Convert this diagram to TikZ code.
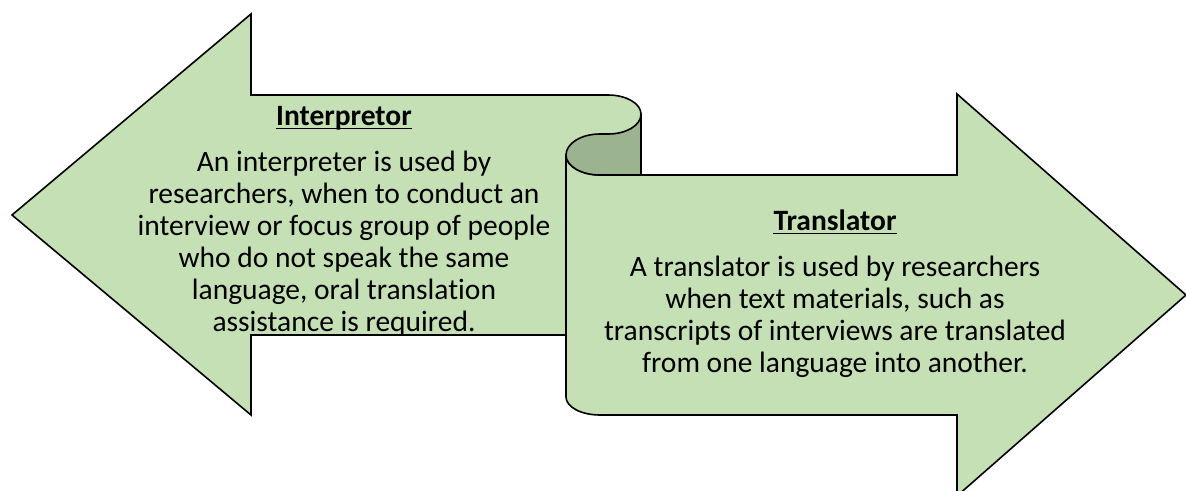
\documentclass[tikz,border=0pt]{standalone}
\usepackage{fontspec}
\setmainfont{Carlito}[Ligatures={NoCommon}]
\definecolor{lightg}{HTML}{C5E0B4}
\definecolor{darkg}{HTML}{9CB38F}
\begin{document}
\begin{tikzpicture}[x=1pt,y=-1pt,
  shapeline/.style={draw=black, line width=1.6pt, line join=miter},
  titletext/.style={font=\fontsize{29.5}{32}\selectfont\bfseries, anchor=base, inner sep=0pt},
  bodytext/.style={font=\fontsize{29.5}{32}\selectfont, anchor=base, inner sep=0pt},
  uline/.style={draw=black, line width=1.5pt}]
\useasboundingbox (0,0) rectangle (1186,490);
% left arrow
\path[shapeline, fill=lightg] (12,215) -- (251,14) -- (251,95) -- (608,95)
  .. controls (626.2,95) and (641,103.5) .. (641,114) -- (641,335) -- (251,335) -- (251,415) -- cycle;
% right arrow
\path[shapeline, fill=lightg] (600,175) -- (957,175) -- (957,94) -- (1186,295) -- (957,496) -- (957,415) -- (600,415)
  .. controls (581.2,415) and (566,407) .. (566,397) -- (566,155)
  .. controls (566,166) and (581.2,175) .. (600,175) -- cycle;
% curl
\path[shapeline, fill=darkg] (566,155) .. controls (566,166) and (581.2,175) .. (600,175)
  -- (641,175) -- (641,114) .. controls (641,125.6) and (626.2,134) .. (608,134) -- (600,134)
  .. controls (581.2,134) and (566,143.4) .. (566,155) -- cycle;
% texts
\node[titletext] (t1) at (344,125) {Interpretor};
\draw[uline] ([yshift=-3.5pt]t1.base west) -- ([yshift=-3.5pt]t1.base east);
\node[bodytext] (b1a) at (344,171) {An interpreter is used by};
\node[bodytext] (b1b) at (344,203) {researchers, when to conduct an};
\node[bodytext] (b1c) at (344,235) {interview or focus group of people};
\node[bodytext] (b1d) at (344,267) {who do not speak the same};
\node[bodytext] (b1e) at (344,299) {language, oral translation};
\node[bodytext] (b1f) at (344,331) {assistance is required.};
\node[titletext] (t2) at (835,230) {Translator};
\draw[uline] ([yshift=-3.5pt]t2.base west) -- ([yshift=-3.5pt]t2.base east);
\node[bodytext] (b2a) at (835,276) {A translator is used by researchers};
\node[bodytext] (b2b) at (835,308) {when text materials, such as};
\node[bodytext] (b2c) at (835,340) {transcripts of interviews are translated};
\node[bodytext] (b2d) at (835,372) {from one language into another.};
\end{tikzpicture}
\end{document}
